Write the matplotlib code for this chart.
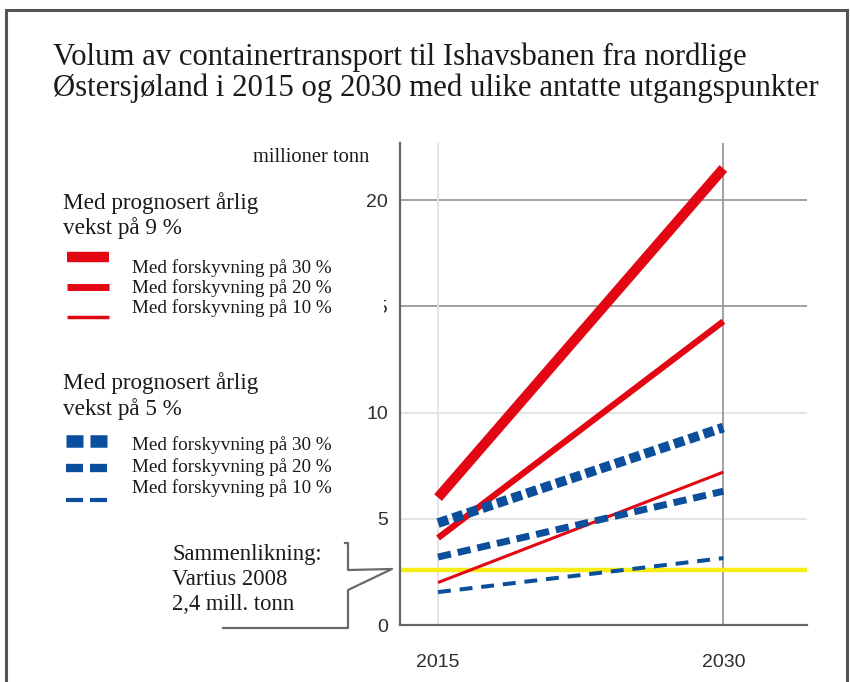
import matplotlib
matplotlib.use('Agg')
import matplotlib.pyplot as plt
from matplotlib.lines import Line2D
from matplotlib.patches import Rectangle
from matplotlib.transforms import Bbox

# data (millioner tonn)
years = [2015, 2030]
red_30 = [6.0, 21.5]
red_20 = [4.1, 14.3]
red_10 = [2.0, 7.2]
blue_30 = [4.8, 9.3]
blue_20 = [3.2, 6.3]
blue_10 = [1.55, 3.15]
vartius = 2.6

yticks = [0, 5, 10, 15, 20]
xticks = [2015, 2030]

title_lines = ['Volum av containertransport til Ishavsbanen fra nordlige',
               'Østersjøland i 2015 og 2030 med ulike antatte utgangspunkter']
group_9 = ['Med prognosert årlig', 'vekst på 9 %']
group_5 = ['Med prognosert årlig', 'vekst på 5 %']
series_labels = ['Med forskyvning på 30 %', 'Med forskyvning på 20 %',
                 'Med forskyvning på 10 %']
unit = 'millioner tonn'
note_lines = ['Sammenlikning:', 'Vartius 2008', '2,4 mill. tonn']

RED = '#e30613'
BLUE = '#0b4f9c'
YELLOW = '#f7ec13'
W, H = 850, 682
SANS = ['Liberation Sans', 'DejaVu Sans']
SERIF = ['Liberation Serif', 'DejaVu Serif']


def fx(x):
    return x / W


def fy(y):
    return 1 - y / H


fig = plt.figure(figsize=(8.5, 6.82), dpi=100)
renderer = fig.canvas.get_renderer()


def fit_size(s, width_px):
    # font size that makes s about width_px wide
    t = fig.text(0, 0, s, fontsize=10, family=SERIF)
    w = t.get_window_extent(renderer).width
    t.remove()
    return 10 * width_px / w


def lines_at(x, baselines, lines, size, **kw):
    for y, s in zip(baselines, lines):
        fig.text(fx(x), fy(y), s, fontsize=size, family=SERIF, va='baseline',
                 color='#1a1a1a', **kw)


ax = fig.add_axes([fx(400), fy(625), (807 - 400) / W, (625 - 143) / H])
ax.set_xlim(2013, 2034.4)
ax.set_ylim(0, 22.7)

for s in ['top', 'right']:
    ax.spines[s].set_visible(False)
for s in ['left', 'bottom']:
    ax.spines[s].set_color('#666666')
    ax.spines[s].set_linewidth(1.6)

# grid
for v in yticks[1:]:
    c = '#9a9a9a' if v >= 15 else '#e2e2e2'
    ax.axhline(v, color=c, lw=1.3, zorder=1)
ax.axvline(2015, color='#e2e2e2', lw=1.3, zorder=1)
ax.axvline(2030, color='#9a9a9a', lw=1.3, zorder=1)

ax.axhline(vartius, color=YELLOW, lw=3.2, zorder=2)

ax.plot(years, red_30, color=RED, lw=7.3, solid_capstyle='butt', zorder=3)
ax.plot(years, red_20, color=RED, lw=4.5, solid_capstyle='butt', zorder=3)
ax.plot(years, red_10, color=RED, lw=2.2, solid_capstyle='butt', zorder=3)
ax.plot(years, blue_30, color=BLUE, lw=7, linestyle=(0, (1.1, 0.5)), zorder=4)
ax.plot(years, blue_20, color=BLUE, lw=5, linestyle=(0, (1.9, 1.0)), zorder=4)
ax.plot(years, blue_10, color=BLUE, lw=2.9, linestyle=(0, (3.2, 2.2)), zorder=4)

ax.set_yticks(yticks)
ax.set_yticklabels(['0', '5', '10', '', '20'])
ax.set_xticks(xticks)
ax.tick_params(length=0, labelsize=14, colors='#2e2e2e')
ax.tick_params(axis='y', pad=8.5)
ax.tick_params(axis='x', pad=21)
for t in ax.get_xticklabels() + ax.get_yticklabels():
    t.set_family(SANS)

# the "15" label is mostly hidden in the original
t15 = fig.text(fx(388), fy(308), '15', ha='right', va='center', fontsize=14,
               color='#2e2e2e', family=SANS)
t15.set_clip_box(Bbox([[384, 0], [400, H]]))
t15.set_clip_on(True)

# texts
tsize = min(fit_size(title_lines[0], 750), fit_size(title_lines[1], 765))
lines_at(53, [65, 96], title_lines, tsize)
lines_at(253, [162], [unit], fit_size(unit, 117))
gsize = fit_size(group_9[0], 195)
lines_at(63, [209, 234], group_9, gsize)
lines_at(63, [389, 415], group_5, gsize)
ssize = fit_size(series_labels[0], 200)
lines_at(132, [273, 293, 313], series_labels, ssize)
lines_at(132, [450, 472, 493], series_labels, ssize)
lines_at(172, [560, 585, 610], note_lines, fit_size(note_lines[0], 150))

# legend keys
for y, lw in [(257, 7.5), (287, 5), (317, 2.5)]:
    fig.add_artist(Line2D([fx(67), fx(109)], [fy(y), fy(y)], color=RED, lw=lw,
                          solid_capstyle='butt'))
for y, lw in [(441, 9), (468, 6), (500, 3)]:
    for x0, x1 in [(66, 83), (90, 107)]:
        fig.add_artist(Line2D([fx(x0), fx(x1)], [fy(y), fy(y)], color=BLUE, lw=lw,
                              solid_capstyle='butt'))

# bracket pointing at the yellow line
bx = [345, 348, 348, 392, 348, 348, 223]
by = [543, 543, 570, 569, 590, 628, 628]
fig.add_artist(Line2D([fx(v) for v in bx], [fy(v) for v in by], color='#6a6a6a',
                      lw=1.6))

# outer frame
fig.add_artist(Rectangle((fx(6), fy(700)), fx(847) - fx(6), fy(10) - fy(700),
                         fill=False, edgecolor='#555555', lw=2.2))

fig.savefig('out.png', dpi=100)
